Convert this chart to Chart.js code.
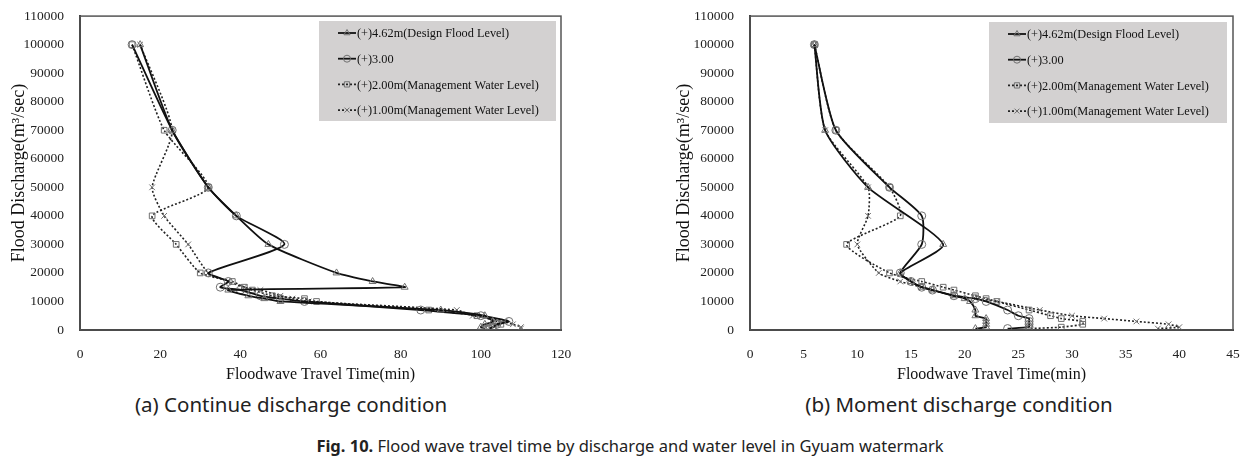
<!DOCTYPE html>
<html>
<head>
<meta charset="utf-8">
<script src="https://cdn.jsdelivr.net/npm/chart.js@4.4.0/dist/chart.umd.min.js"></script>
<style>
body{margin:0;background:#fff;width:1259px;height:462px;position:relative;overflow:hidden}
.box{position:absolute}
.cap{position:absolute;font-family:"Noto Sans";font-size:20.5px;color:#222;white-space:nowrap;transform:translateX(-50%)}
</style>
</head>
<body>
<div class="box" style="left:0;top:0;width:580px;height:390px"><canvas id="chartA"></canvas></div>
<div class="box" style="left:665px;top:0;width:590px;height:390px"><canvas id="chartB"></canvas></div>
<div class="cap" style="left:291px;top:390px">(a) Continue discharge condition</div>
<div class="cap" style="left:959px;top:390px">(b) Moment discharge condition</div>
<div class="cap" style="left:630px;top:434px;font-size:16.5px"><b>Fig. 10.</b> Flood wave travel time by discharge and water level in Gyuam watermark</div>
<script>
// series names
var labels = ["(+)4.62m(Design Flood Level)", "(+)3.00", "(+)2.00m(Management Water Level)", "(+)1.00m(Management Water Level)"];

// (a) continue discharge
var dischargeA = [100000, 70000, 50000, 40000, 30000, 20000, 17000, 15000, 14000, 12000, 11000, 10000, 7000, 5000, 3000, 2000, 1000, 500];
var designA = [15, 23, 32, 39, 47, 64, 73, 81, 37, 42, 46, 50, 90, 101, 103, 101, 100, 101];
var lvl300A = [13, 23, 32, 39, 51, 32, 37, 35, 40, 45, 50, 56, 85, 100, 107, 104, 103, 102];
var lvl200A = [13, 21, 32, 18, 24, 30, 38, 41, 43, 48, 56, 59, 87, 99, 104, 105, 103, 102];
var lvl100A = [15, 23, 18, 21, 27, 32, 37, 41, 45, 50, 53, 57, 94, 98, 106, 108, 110, 110];

// (b) moment discharge
var dischargeB = [100000, 70000, 50000, 40000, 30000, 20000, 17000, 15000, 14000, 12000, 11000, 10000, 7000, 5000, 4000, 3000, 2000, 1000, 500];
var designB = [6, 7, 11, null, 18, 14, 15, 16, 17, 19, 20, 20.5, 21, 21, 22, 22, 22, 22, 21];
var lvl300B = [6, 8, 13, 16, 16, 14, 15, 16, 17, 19, 21, 22, 24, 25, 26, 26, 26, 26, 24];
var lvl200B = [6, 8, 13, 14, 9, 13, 16, 18, 19, 21, 22, 23, 26, 28, 29, 31, 31, 29, 26];
var lvl100B = [6, 7, 11, 11, 10, 12, 14, 16, 17, 19, 21, 23, 27, 30, 33, 36, 39, 40, 38];

var styles = [
  {pt: 'triangle', dash: [], color: '#111', w: 1.8},
  {pt: 'circle', dash: [], color: '#111', w: 1.8},
  {pt: 'rect', dash: [2, 2], color: '#222', w: 1.6},
  {pt: 'crossRot', dash: [2, 2], color: '#222', w: 1.6}
];
var markColor = '#707070';

Chart.defaults.font.family = '"Liberation Serif", serif';

function pts(xs, ys) {
  var out = [];
  for (var i = 0; i < xs.length; i++) {
    out.push({x: xs[i], y: xs[i] == null ? null : ys[i]});
  }
  return out;
}

function makeSets(series, ys) {
  return series.map(function (s, i) {
    var st = styles[i];
    return {
      label: labels[i],
      data: pts(s, ys),
      showLine: true,
      spanGaps: true,
      borderColor: st.color,
      borderWidth: st.w,
      borderDash: st.dash,
      tension: 0.2,
      pointStyle: st.pt,
      pointRadius: 4,
      pointBorderWidth: 1,
      pointBorderColor: markColor,
      pointBackgroundColor: 'rgba(255,255,255,0)'
    };
  });
}

function drawMark(ctx, type, x, y, r) {
  ctx.beginPath();
  if (type == 'triangle') {
    ctx.moveTo(x, y - r);
    ctx.lineTo(x + r * 0.87, y + r * 0.5);
    ctx.lineTo(x - r * 0.87, y + r * 0.5);
    ctx.closePath();
  } else if (type == 'circle') {
    ctx.arc(x, y, r, 0, Math.PI * 2);
  } else if (type == 'rect') {
    ctx.rect(x - r * 0.75, y - r * 0.75, r * 1.5, r * 1.5);
  } else {
    ctx.moveTo(x - r * 0.7, y - r * 0.7); ctx.lineTo(x + r * 0.7, y + r * 0.7);
    ctx.moveTo(x + r * 0.7, y - r * 0.7); ctx.lineTo(x - r * 0.7, y + r * 0.7);
  }
  ctx.stroke();
}

var framePlugin = {
  id: 'frameLegend',
  afterDraw: function (chart) {
    var ctx = chart.ctx, a = chart.chartArea;
    var lg = chart.options.plugins.boxLegend;
    ctx.save();
    ctx.strokeStyle = '#555';
    ctx.lineWidth = 1.5;
    ctx.strokeRect(a.left, a.top, a.right - a.left, a.bottom - a.top);
    ctx.fillStyle = '#d3d1d1';
    ctx.fillRect(lg.x, lg.y, lg.w, lg.h);
    ctx.font = '12.3px "Liberation Serif"';
    ctx.textBaseline = 'middle';
    for (var i = 0; i < 4; i++) {
      var yy = lg.y + 12 + i * 25.7;
      var st = styles[i];
      ctx.strokeStyle = st.color;
      ctx.lineWidth = st.w;
      ctx.setLineDash(st.dash);
      ctx.beginPath();
      ctx.moveTo(lg.x + 19, yy);
      ctx.lineTo(lg.x + 37, yy);
      ctx.stroke();
      ctx.setLineDash([]);
      ctx.strokeStyle = markColor;
      ctx.lineWidth = 1;
      drawMark(ctx, st.pt, lg.x + 28, yy, 3.5);
      ctx.fillStyle = '#111';
      ctx.fillText(labels[i], lg.x + 38, yy + 1);
    }
    ctx.restore();
  }
};

var tickFont = {family: '"Liberation Serif", serif', size: 13.5};
var xTitleFont = {family: '"Liberation Serif", serif', size: 16};
var yTitleFont = {family: '"Liberation Serif", serif', size: 18};

function makeChart(id, sets, xmax, xstep, yw, padR, legendBox) {
  return new Chart(document.getElementById(id), {
    type: 'scatter',
    data: {datasets: sets},
    plugins: [framePlugin],
    options: {
      responsive: true,
      maintainAspectRatio: false,
      animation: false,
      layout: {padding: {top: 16, right: padR, left: 0, bottom: 0}},
      plugins: {
        legend: {display: false},
        tooltip: {enabled: false},
        boxLegend: legendBox
      },
      scales: {
        x: {
          type: 'linear', min: 0, max: xmax,
          grid: {display: false},
          border: {display: true, color: '#333', width: 2},
          ticks: {stepSize: xstep, font: tickFont, color: '#222', padding: 8},
          title: {display: true, text: 'Floodwave Travel Time(min)', font: xTitleFont, color: '#111', padding: {top: 6, bottom: 6}},
          afterFit: function (s) { s.height = 60; }
        },
        y: {
          type: 'linear', min: 0, max: 110000,
          grid: {display: false},
          border: {display: true, color: '#333', width: 2},
          ticks: {stepSize: 10000, font: tickFont, color: '#222', padding: 8,
            callback: function (v) { return String(v); }},
          title: {display: true, text: 'Flood Discharge(m\u00b3/sec)', font: yTitleFont, color: '#111', padding: {top: 8, bottom: 4}},
          afterFit: function (s) { s.width = yw; }
        }
      }
    }
  });
}

makeChart('chartA', makeSets([designA, lvl300A, lvl200A, lvl100A], dischargeA), 120, 20, 80, 19,
  {x: 319, y: 21, w: 237, h: 100});
makeChart('chartB', makeSets([designB, lvl300B, lvl200B, lvl100B], dischargeB), 45, 5, 85, 22,
  {x: 324, y: 22, w: 238, h: 101});
</script>
</body>
</html>
